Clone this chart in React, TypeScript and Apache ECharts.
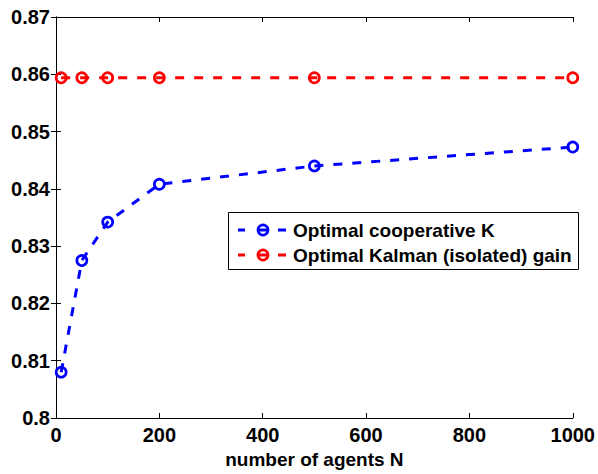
import React, { useEffect, useRef } from "react";
import * as echarts from "echarts";

// number of agents N at which both gains were evaluated
const agents = [10, 50, 100, 200, 500, 1000];
// optimal cooperative gain K for each N
const cooperativeK = [0.808, 0.8275, 0.8342, 0.8408, 0.844, 0.8473];
// isolated Kalman gain (independent of N)
const kalmanGain = [0.8594, 0.8594, 0.8594, 0.8594, 0.8594, 0.8594];

const seriesNames = ["Optimal cooperative K", "Optimal Kalman (isolated) gain"];
const seriesColors = ["#0000ff", "#ff0000"];

const xTicks = { min: 0, max: 1000, interval: 200 };
const yTicks = { min: 0.8, max: 0.87, interval: 0.01 };

const FONT = "'Liberation Sans', Arial, Helvetica, sans-serif";
const DASH = [9, 10];

function pairs(xs: number[], ys: number[]) {
  return xs.map((x, i) => [x, ys[i]]);
}

function lineSeries(name: string, color: string, values: number[]) {
  return {
    name,
    type: "line",
    data: pairs(agents, values),
    symbol: "circle",
    symbolSize: 10,
    showSymbol: true,
    lineStyle: { color, width: 3, type: DASH },
    itemStyle: { color: "rgba(0,0,0,0)", borderColor: color, borderWidth: 2.7 },
    emphasis: { disabled: true },
  };
}

// boxed legend in the MATLAB style: "- o -" sample followed by the series name
function legendBox(left: number, top: number, width: number, height: number) {
  const children: any[] = [
    {
      type: "rect",
      shape: { x: 0.5, y: 0.5, width, height },
      style: { fill: "#fff", stroke: "#000", lineWidth: 1 },
    },
  ];
  seriesNames.forEach((name, i) => {
    const cy = 18 + i * 25;
    const color = seriesColors[i];
    const seg = { stroke: color, lineWidth: 3 };
    children.push(
      { type: "line", shape: { x1: 10, y1: cy, x2: 17, y2: cy }, style: seg },
      { type: "line", shape: { x1: 30, y1: cy, x2: 40, y2: cy }, style: seg },
      { type: "line", shape: { x1: 50, y1: cy, x2: 58, y2: cy }, style: seg },
      {
        type: "circle",
        shape: { cx: 35, cy, r: 5 },
        style: { fill: "none", stroke: color, lineWidth: 2.7 },
      },
      {
        type: "text",
        x: 65,
        y: cy,
        style: {
          text: name,
          fill: "#000",
          font: `bold 19px ${FONT}`,
          verticalAlign: "middle",
          align: "left",
        },
      }
    );
  });
  return { type: "group", left, top, children };
}

export default function App() {
  const ref = useRef<HTMLDivElement>(null);

  useEffect(() => {
    if (!ref.current) return;
    const chart = echarts.init(ref.current, undefined, { renderer: "svg" });
    const tickLabel = { color: "#000", fontFamily: FONT, fontWeight: "bold", fontSize: 20 };
    const axisLine = { show: true, lineStyle: { color: "#000", width: 1 } };
    const axisTick = { show: true, inside: true, length: 5, lineStyle: { color: "#000", width: 1 } };
    chart.setOption({
      animation: false,
      backgroundColor: "#fff",
      grid: { left: 56, top: 17, right: 21, bottom: 52, containLabel: false },
      xAxis: [
        {
          type: "value",
          ...xTicks,
          position: "bottom",
          axisLine,
          axisTick,
          splitLine: { show: false },
          axisLabel: { ...tickLabel, margin: 7, formatter: (v: number) => String(v) },
          name: "number of agents N",
          nameLocation: "middle",
          nameGap: 32,
          nameTextStyle: { color: "#000", fontFamily: FONT, fontWeight: "bold", fontSize: 19 },
        },
        {
          type: "value",
          ...xTicks,
          position: "top",
          axisLine,
          axisTick,
          splitLine: { show: false },
          axisLabel: { show: false },
        },
      ],
      yAxis: [
        {
          type: "value",
          ...yTicks,
          position: "left",
          axisLine,
          axisTick,
          splitLine: { show: false },
          axisLabel: { ...tickLabel, margin: 6 },
        },
        {
          type: "value",
          ...yTicks,
          position: "right",
          axisLine,
          axisTick,
          splitLine: { show: false },
          axisLabel: { show: false },
        },
      ],
      series: [
        lineSeries(seriesNames[0], seriesColors[0], cooperativeK),
        lineSeries(seriesNames[1], seriesColors[1], kalmanGain),
      ],
      graphic: [legendBox(228, 212, 350, 57)],
    });
    return () => chart.dispose();
  }, []);

  return (
    <div
      ref={ref}
      style={{ position: "fixed", left: 0, top: 0, width: 598, height: 474, background: "#fff" }}
    />
  );
}
